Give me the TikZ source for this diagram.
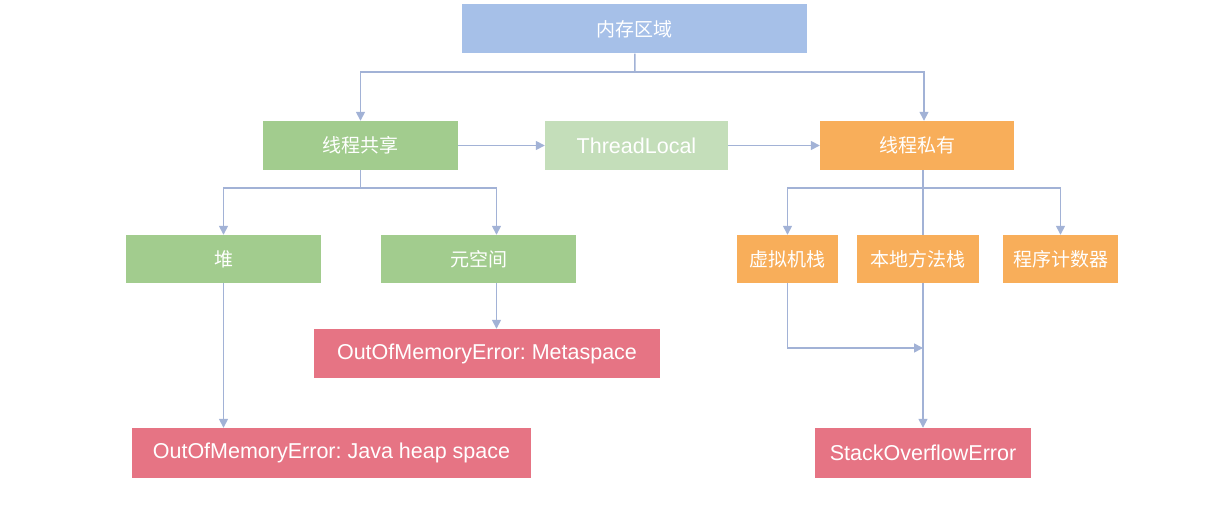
\documentclass[tikz,border=0pt]{standalone}
\usepackage{fontspec}
\setmainfont{Liberation Sans}
\newfontfamily\cjk{Noto Sans CJK SC}
\usetikzlibrary{arrows.meta,positioning}
\frenchspacing
\definecolor{memblue}{RGB}{166,192,232}
\definecolor{sharegreen}{RGB}{162,204,142}
\definecolor{tlgreen}{RGB}{196,222,186}
\definecolor{priorange}{RGB}{248,174,90}
\definecolor{errred}{RGB}{230,116,132}
\definecolor{linkblue}{RGB}{162,178,214}

\begin{document}
\begin{tikzpicture}[x=1pt, y=-1pt, >={Triangle[length=9pt,width=9pt]},
  every node/.style={rectangle,inner sep=0pt,text=white,font=\fontsize{21.5}{25}\selectfont},
  zh/.style={font=\cjk\fontsize{19}{22}\selectfont},
  area/.style={fill=memblue,zh},
  shared/.style={fill=sharegreen,zh},
  private/.style={fill=priorange,zh},
  error/.style={fill=errred},
  link/.style={draw=linkblue,line width=1.5pt}]
  \useasboundingbox (0,0) rectangle (1226,526);

  \node[area,minimum width=345pt,minimum height=49pt] (mem) at (634.5,29) {内存区域};
  \node[shared,minimum width=195pt,minimum height=49pt] (sh) at (360.5,145.5) {线程共享};
  \node[fill=tlgreen,minimum width=183pt,minimum height=49pt] (tl) at (636.5,145.5) {ThreadLocal};
  \node[private,minimum width=194pt,minimum height=49pt] (pri) at (917,145.5) {线程私有};

  \node[shared,minimum width=195pt,minimum height=48pt] (heap) at (223.5,259) {堆};
  \node[shared,minimum width=195pt,minimum height=48pt] (meta) at (478.5,259) {元空间};
  \node[private,minimum width=101pt,minimum height=48pt] (vm) at (787.5,259) {虚拟机栈};
  \node[private,minimum width=122pt,minimum height=48pt] (nat) at (918,259) {本地方法栈};
  \node[private,minimum width=115pt,minimum height=48pt] (pc) at (1060.5,259) {程序计数器};

  \node[error,minimum width=346pt,minimum height=49pt] (oomm) at (487,353.5) {OutOfMemoryError: Metaspace};
  \node[error,minimum width=399pt,minimum height=50pt] (oomh) at (331.5,453) {OutOfMemoryError: Java heap space};
  \node[error,minimum width=216pt,minimum height=50pt] (soe) at (923,453) {StackOverflowError};

  \coordinate (top) at (635,72);
  \coordinate (sbar) at (360.5,188);
  \coordinate (pbar) at (923,188);
  \coordinate (vmjoin) at (923,348);

  \draw[link] (mem) -- (top);
  \draw[link,->] (top) -| (sh);
  \draw[link,->] (top) -| ([xshift=7pt]pri.north);

  \draw[link,->] (sh) -- (tl);
  \draw[link,->] (tl) -- (pri);

  \draw[link] (sh) -- (sbar);
  \draw[link,->] (sbar) -| (heap);
  \draw[link,->] (sbar) -| ([xshift=18pt]meta.north);
  \draw[link,->] (heap) -- (heap |- oomh.north);
  \draw[link,->] ([xshift=18pt]meta.south) -- ([xshift=18pt]meta.south |- oomm.north);

  \draw[link] ([xshift=6pt]pri.south) -- ([xshift=5pt]nat.north);
  \draw[link,->] (pbar) -| (vm);
  \draw[link,->] (pbar) -| (pc);
  \draw[link,->] ([xshift=5pt]nat.south) -- (soe);
  \draw[link,->] (vm) |- (vmjoin);
\end{tikzpicture}
\end{document}
